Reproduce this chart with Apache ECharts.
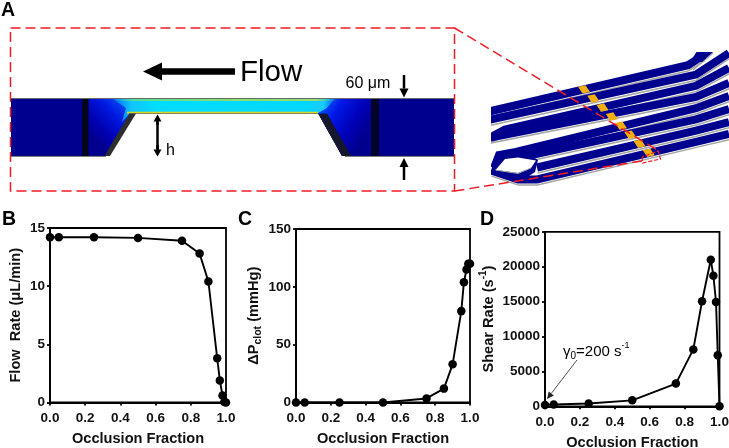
<!DOCTYPE html>
<html><head><meta charset="utf-8">
<style>html,body{margin:0;padding:0;background:#fff}#c{width:729px;height:448px}</style>
<script src="https://cdn.jsdelivr.net/npm/echarts@6/dist/echarts.min.js"></script>
</head><body><div id="c"></div>
<script>
const occlusion = [0, 0.05, 0.25, 0.5, 0.75, 0.85, 0.9, 0.95, 0.965, 0.98, 0.99, 1];
const flowRate = [14.2, 14.2, 14.2, 14.15, 13.9, 12.8, 10.4, 3.8, 1.9, 0.6, 0.05, 0];
const pressure = [0, 0, 0, 0, 3.5, 12, 33, 79, 104, 115, 120, 120];
const shearRate = [200, 250, 400, 850, 3250, 8150, 15050, 21000, 18700, 14950, 7300, 0];

const FONT = 'Arial, "Liberation Sans", sans-serif';
const chart = echarts.init(document.getElementById('c'), null, {renderer: 'canvas'});
const zip = ys => occlusion.map((x, i) => [x, ys[i]]);

function panelAxes(i, ymax, yint, name, gap) {
  return {
    x: {
      gridIndex: i, type: 'value', min: 0, max: 1, interval: 0.2,
      name: 'Occlusion Fraction', nameLocation: 'middle', nameGap: 29,
      nameTextStyle: {fontFamily: FONT, fontWeight: 'bold', fontSize: 14.6, color: '#111'},
      axisLine: {show: true, onZero: false, lineStyle: {color: '#000', width: 1.8}},
      axisTick: {show: true, length: 3, lineStyle: {color: '#000', width: 1.8}},
      axisLabel: {fontFamily: FONT, fontWeight: 'bold', fontSize: 13.5, color: '#111', margin: 9,
        showMinLabel: true, showMaxLabel: true, formatter: v => v.toFixed(1)},
      splitLine: {show: false}
    },
    y: {
      gridIndex: i, type: 'value', min: 0, max: ymax, interval: yint,
      name: name, nameLocation: 'middle', nameGap: gap, nameRotate: 90,
      nameTextStyle: {fontFamily: FONT, fontWeight: 'bold', fontSize: 14.6, color: '#111',
        rich: {
          b: {fontFamily: FONT, fontWeight: 'bold', fontSize: 14.6, color: '#111'},
          s: {fontFamily: FONT, fontWeight: 'bold', fontSize: 10.5, color: '#111', verticalAlign: 'bottom', lineHeight: 21},
          u: {fontFamily: FONT, fontWeight: 'bold', fontSize: 10, color: '#111', verticalAlign: 'top', lineHeight: 21}
        }},
      axisLine: {show: true, onZero: false, lineStyle: {color: '#000', width: 1.8}},
      axisTick: {show: true, length: 3, lineStyle: {color: '#000', width: 1.8}},
      axisLabel: {fontFamily: FONT, fontWeight: 'bold', fontSize: 13.5, color: '#111', margin: 5,
        formatter: v => String(v)},
      splitLine: {show: false}
    }
  };
}
const axB = panelAxes(0, 15, 5, '{b|Flow  Rate (μL/min)}', 27);
const axC = panelAxes(1, 150, 50, '{b|ΔP}{s|clot}{b| (mmHg)}', 32);
const axD = panelAxes(2, 25000, 5000, '{b|Shear Rate (s}{u|-1}{b|)}', 46);

const gridBox = (l, t, w, h) => ({left: l, top: t, width: w, height: h, show: true,
  borderColor: '#000', borderWidth: 1.8, backgroundColor: 'transparent', containLabel: false,
  outerBoundsMode: 'none'});

const seriesFor = (i, ys) => ({
  type: 'line', xAxisIndex: i, yAxisIndex: i, data: zip(ys), clip: false,
  symbol: 'circle', symbolSize: 8.5, showSymbol: true, animation: false,
  lineStyle: {color: '#000', width: 1.9}, itemStyle: {color: '#000'}
});

/* ---------- Panel A: schematic (drawing, not data) ---------- */
const RED = '#ee1c25', NAVY = '#00008e';
const G = [];
const poly = (pts, fill, z) => G.push({type: 'polygon', silent: true, z: z || 10, shape: {points: pts}, style: {fill: fill, stroke: null}});
const line = (pts, stroke, w, dash, z) => G.push({type: 'polyline', silent: true, z: z || 10, shape: {points: pts},
  style: {stroke: stroke, lineWidth: w, fill: null, lineDash: dash || null}});
const text = (s, x, y, size, weight, rich, fill) => G.push({type: 'text', silent: true, z: 30, x: x, y: y,
  style: {text: s, fill: fill || '#000', font: (weight || 'normal') + ' ' + size + 'px ' + FONT, rich: rich, textVerticalAlign: 'middle', verticalAlign: 'middle'}});
const grad = (x0, y0, x1, y1, stops) => new echarts.graphic.LinearGradient(x0, y0, x1, y1,
  stops.map(s => ({offset: s[0], color: s[1]})), true);

function arrow(x0, y0, x1, y1, w, hl, hw, color) {
  const d = Math.hypot(x1 - x0, y1 - y0), ux = (x1 - x0) / d, uy = (y1 - y0) / d;
  const bx = x1 - ux * hl, by = y1 - uy * hl;
  line([[x0, y0], [bx, by]], color || '#000', w, null, 25);
  poly([[x1, y1], [bx - uy * hw / 2, by + ux * hw / 2], [bx + uy * hw / 2, by - ux * hw / 2]], color || '#000', 25);
}

/* channel */
const throatTop = 98.5, throatBot = 113, floor = 156;
poly([[11, throatTop], [454, throatTop], [454, floor], [342, floor], [318, throatBot], [130, throatBot], [106, floor], [11, floor]], '#00008e', 11);
/* diagonal glow at the converging sections */
poly([[88, throatTop], [135, throatTop], [130, throatBot], [106, floor], [88, floor]],
  grad(130, 100, 92, 138, [[0, '#0060ff'], [0.4, '#0018e0'], [0.75, '#0000b0'], [1, '#00008e']]), 12);
poly([[318, throatBot], [316, throatTop], [371, throatTop], [371, floor], [342, floor]],
  grad(318, 100, 368, 132, [[0, '#0070ff'], [0.35, '#0018e8'], [0.7, '#0000b8'], [1, '#00008e']]), 12);
poly([[112, throatTop], [335, throatTop], [327, 108], [318, throatBot], [130, throatBot], [122, 122], [126, 108]],
  grad(108, 0, 340, 0, [[0, 'rgba(0,200,255,0)'], [0.1, '#12c4ff'], [0.2, '#00ddff'], [0.85, '#00d8ff'], [0.93, '#1cc8ff'], [1, 'rgba(0,160,255,0)']]), 13);
line([[112, 100], [338, 100]], grad(112, 0, 338, 0, [[0, 'rgba(40,230,170,0)'], [0.1, '#70e070'], [0.5, '#b0e040'], [0.9, '#c8e040'], [1, 'rgba(40,230,170,0)']]), 1.6, null, 14);
line([[127, 112.6], [318, 112.6]], '#d8d820', 1.6, null, 14);
line([[11, 98.5], [454, 98.5]], '#6a6a6a', 1, null, 15);
line([[129, 113.5], [318, 113.5]], '#6a6a50', 0.8, null, 15);
line([[11, 156.3], [106, 156.3]], '#333', 0.8, null, 15);
line([[345, 156.3], [454, 156.3]], '#333', 0.8, null, 15);
poly([[82, 99], [88.5, 99], [88.5, 156], [82, 156]], '#05051c', 16);
poly([[371, 99], [379, 99], [379, 156], [371, 156]], '#04042a', 16);
poly([[104.5, 156], [110, 156], [136, 113.4], [129.5, 113.4]], '#2e2e2e', 17);
poly([[318, 113.4], [327, 113.4], [351, 156], [342, 156]], '#16162c', 17);

/* labels and arrows, A */
arrow(235, 71.5, 143, 71.5, 6.5, 19, 18);
text('Flow', 240, 73, 29.5);
text('60 μm', 345.5, 83.5, 16);
arrow(404, 75, 404, 97.5, 2.5, 9, 9);
arrow(404, 180, 404, 158, 2.5, 9, 9);
arrow(157.5, 125, 157.5, 114.5, 2.5, 7, 8);
arrow(157.5, 145, 157.5, 156.5, 2.5, 7, 8);
line([[157.5, 120], [157.5, 150]], '#000', 2.5, null, 25);
text('h', 166, 151, 16);

/* 3-D device overview */
const slope = -0.2325, spacing = 11.2, bandW = 8;
const bandY = (k, x) => 85.7 + spacing * k + slope * (x - 600);
const rightEnds = [null, 53, 68, 83, 96, 109, 122, 134];
const bands = [];
for (let k = 0; k < 8; k++) {
  const pts = [];
  if (k === 0) pts.push([488, bandY(0, 488)]);
  if (k === 1) pts.push([488, 120.2]);
  if (k === 2) pts.push([491, 137], [505, 129.5]);
  if (k === 3) pts.push([488, 138]);
  if (k === 4) pts.push([494, 168], [499, 155], [516, 152]);
  if (k === 5) pts.push([522, 157]);
  if (k === 6) pts.push([537, 167.5]);
  if (k === 7) pts.push([491, 170.5], [518, 179.5], [537, 179.5]);
  if (k === 0) pts.push([688, bandY(0, 688)], [704, 55]);
  else {
    const bx = 696;
    pts.push([bx, bandY(k, bx)], [729, rightEnds[k]]);
  }
  bands.push(pts);
}
bands.forEach((pts, k) => {
  line(pts.map(p => [p[0] + 0.5, p[1] + 5.6]), '#a4a4a4', 1.5, null, 8 + k * 0.01);
});
bands.forEach(pts => line(pts, NAVY, bandW, null, 9));
poly([[696.5, 52], [713, 52], [702, 62], [690, 62]], NAVY, 9);
line([[713, 53], [700, 64], [693, 70]], '#a4a4a4', 1.5, null, 8.5);
poly([[492, 170], [497, 155], [518, 148], [538, 160], [535, 172], [518, 183], [493, 172]], NAVY, 9);
poly([[495.5, 170], [505, 159], [518, 157.5], [536, 160.5], [531, 168], [518, 173]], '#fff', 9.5);
line([[495.5, 170], [518, 173.5], [531, 168]], '#aaa', 1, null, 9.6);
poly([[478, 100], [491, 100], [491, 190], [478, 190]], '#fff', 9.8);
for (let k = 0; k < 8; k++) {
  const xk = 584 + 9.25 * k, yk = bandY(k, xk);
  poly([[xk - 6, yk - 2.6], [xk + 1.5, yk - 4.2], [xk + 6, yk + 2.6], [xk - 1.5, yk + 4.2]], '#f4ae0e', 9.7);
}

/* red dashes */
const dash = [10, 5];
line([[10.5, 28], [454.5, 28], [454.5, 191], [10.5, 191], [10.5, 28]], RED, 1.5, dash, 28);
line([[454.5, 28], [659, 151]], RED, 1.5, dash, 28);
line([[454.5, 191], [642, 161]], RED, 1.5, dash, 28);
line([[642, 157], [642.5, 163], [660.5, 159], [658, 151], [642, 157]], RED, 1.2, [4, 2], 28);

/* panel letters */
text('A', 1, 11, 19.5, 'bold');
text('B', 2, 219.5, 19.5, 'bold');
text('C', 238, 219.5, 19.5, 'bold');
text('D', 480, 219.5, 19.5, 'bold');

/* panel D annotation */
text('{a|γ}{s|0}{a|=200 s}{u|-1}', 563, 351.5, 15, 'normal', {
  a: {fontFamily: FONT, fontSize: 15, color: '#222'},
  s: {fontFamily: FONT, fontSize: 10, color: '#222', verticalAlign: 'bottom', lineHeight: 20},
  u: {fontFamily: FONT, fontSize: 9, color: '#222', verticalAlign: 'top', lineHeight: 20}
});
arrow(577, 360, 547, 399, 0.8, 7, 6.5, '#222');

chart.setOption({
  animation: false,
  backgroundColor: '#fff',
  textStyle: {fontFamily: FONT},
  grid: [gridBox(50, 228, 176, 174.5), gridBox(296, 229, 174, 173.5), gridBox(545, 231.8, 174.5, 174.5)],
  xAxis: [axB.x, axC.x, axD.x],
  yAxis: [axB.y, axC.y, axD.y],
  series: [seriesFor(0, flowRate), seriesFor(1, pressure), seriesFor(2, shearRate)],
  graphic: {elements: G}
});
</script></body></html>
